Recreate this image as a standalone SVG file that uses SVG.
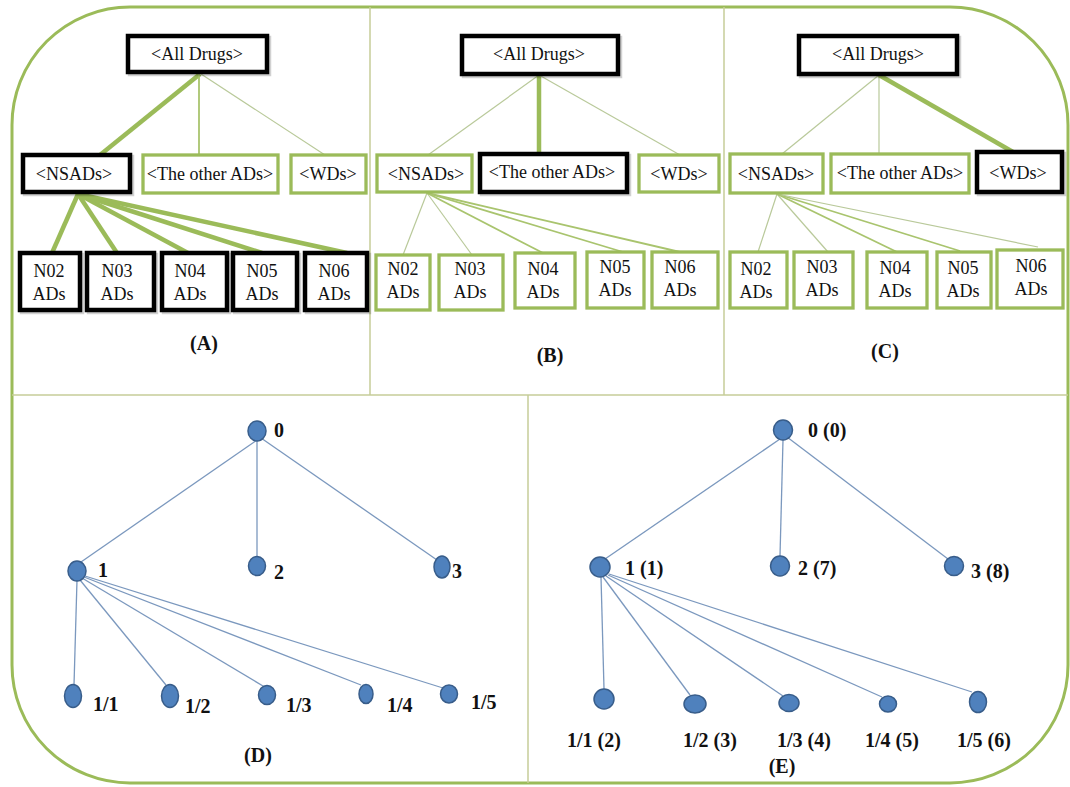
<svg xmlns="http://www.w3.org/2000/svg" width="1070" height="787" viewBox="0 0 1070 787">
  <style>
    .frame { fill: #ffffff; stroke: #9bbb59; stroke-width: 3; }
    .divider { stroke: #c6cc98; stroke-width: 1.5; fill: none; }
    .box { fill: #ffffff; stroke: #9bbb59; stroke-width: 3.3; }
    .box-sel { fill: #ffffff; stroke: #000000; stroke-width: 4.5; }
    .shadow { fill: none; stroke: #000000; stroke-opacity: 0.18; stroke-width: 4.5; }
    .lbl { font-family: "Liberation Serif", "Times New Roman", serif; font-size: 18px; fill: #111111; text-anchor: middle; }
    .cap { font-family: "Liberation Serif", "Times New Roman", serif; font-size: 20px; font-weight: bold; fill: #111111; text-anchor: middle; }
    .num { font-family: "Liberation Serif", "Times New Roman", serif; font-size: 20px; font-weight: bold; fill: #111111; }
    .e-thick { stroke: #9bbb59; stroke-width: 4.5; fill: none; }
    .e-mid { stroke: #a9c46e; stroke-width: 1.8; fill: none; }
    .e-thin { stroke: #b9c99a; stroke-width: 1.2; fill: none; }
    .edge { stroke: #7b98be; stroke-width: 1.3; fill: none; }
    .dot { fill: #4f81bd; stroke: #385d8a; stroke-width: 1.5; }
  </style>

  <!-- outer rounded frame and panel dividers -->
  <rect class="frame" x="12" y="7" width="1056" height="776" rx="118" ry="118"/>
  <g id="dividers">
    <line class="divider" x1="12" y1="395" x2="1068" y2="395"/>
    <line class="divider" x1="370" y1="7" x2="370" y2="395"/>
    <line class="divider" x1="724" y1="7" x2="724" y2="395"/>
    <line class="divider" x1="528" y1="395" x2="528" y2="783"/>
  </g>

  <!-- connectors -->
  <g id="connectors">
    <!-- panel A -->
    <line class="e-thick" x1="200" y1="74" x2="100" y2="155"/>
    <line class="e-mid" x1="199" y1="74" x2="199" y2="155"/>
    <line class="e-thin" x1="201" y1="74" x2="325" y2="155"/>
    <line class="e-thick" x1="78" y1="194" x2="52" y2="253"/>
    <line class="e-thick" x1="78" y1="194" x2="117" y2="253"/>
    <line class="e-thick" x1="78" y1="194" x2="188" y2="253"/>
    <line class="e-thick" x1="78" y1="194" x2="262" y2="253"/>
    <line class="e-thick" x1="78" y1="194" x2="347" y2="253"/>
    <!-- panel B -->
    <line class="e-thin" x1="539" y1="75" x2="428" y2="155"/>
    <line class="e-thick" x1="539" y1="75" x2="539" y2="154"/>
    <line class="e-thin" x1="539" y1="75" x2="680" y2="155"/>
    <line class="e-thin" x1="427" y1="193" x2="403" y2="255"/>
    <line class="e-thin" x1="427" y1="193" x2="472" y2="255"/>
    <line class="e-mid" x1="427" y1="193" x2="543" y2="253"/>
    <line class="e-mid" x1="427" y1="193" x2="623" y2="252"/>
    <line class="e-mid" x1="427" y1="193" x2="680" y2="252"/>
    <!-- panel C -->
    <line class="e-thin" x1="879" y1="75" x2="782" y2="154"/>
    <line class="e-thin" x1="879" y1="75" x2="879" y2="154"/>
    <line class="e-thick" x1="879" y1="75" x2="1013" y2="152"/>
    <line class="e-thin" x1="777" y1="194" x2="758" y2="252"/>
    <line class="e-thin" x1="777" y1="194" x2="828" y2="252"/>
    <line class="e-mid" x1="777" y1="194" x2="897" y2="252"/>
    <line class="e-mid" x1="777" y1="194" x2="960" y2="251"/>
    <line class="e-thin" x1="777" y1="194" x2="1038" y2="247"/>
    <!-- panel D -->
    <line class="edge" x1="257" y1="440" x2="81" y2="562"/>
    <line class="edge" x1="257" y1="440" x2="257" y2="557"/>
    <line class="edge" x1="261" y1="438" x2="437" y2="560"/>
    <line class="edge" x1="77" y1="580" x2="74" y2="685"/>
    <line class="edge" x1="80" y1="580" x2="166" y2="685"/>
    <line class="edge" x1="82" y1="578" x2="263" y2="686"/>
    <line class="edge" x1="84" y1="577" x2="361" y2="685"/>
    <line class="edge" x1="85" y1="576" x2="443" y2="688"/>
    <!-- panel E -->
    <line class="edge" x1="780" y1="439" x2="605" y2="559"/>
    <line class="edge" x1="783" y1="440" x2="780" y2="556"/>
    <line class="edge" x1="787" y1="437" x2="948" y2="559"/>
    <line class="edge" x1="601" y1="577" x2="604" y2="689"/>
    <line class="edge" x1="603" y1="577" x2="690" y2="695"/>
    <line class="edge" x1="606" y1="576" x2="783" y2="696"/>
    <line class="edge" x1="608" y1="575" x2="882" y2="697"/>
    <line class="edge" x1="609" y1="574" x2="972" y2="692"/>
  </g>

  <!-- panel A nodes -->
  <g id="a-all-drugs">
    <rect class="shadow" x="130" y="38" width="139" height="36"/>
    <rect class="box-sel" x="128" y="36" width="139" height="36"/>
    <text class="lbl" x="197" y="60">&lt;All Drugs&gt;</text>
  </g>
  <g id="a-nsads">
    <rect class="shadow" x="25" y="157" width="107" height="37"/>
    <rect class="box-sel" x="23" y="155" width="107" height="37"/>
    <text class="lbl" x="74" y="180">&lt;NSADs&gt;</text>
  </g>
  <g id="a-other">
    <rect class="box" x="143" y="155" width="135" height="38"/>
    <text class="lbl" x="210" y="180">&lt;The other ADs&gt;</text>
  </g>
  <g id="a-wds">
    <rect class="box" x="291" y="155" width="75" height="38"/>
    <text class="lbl" x="328" y="180">&lt;WDs&gt;</text>
  </g>
  <g id="a-n02">
    <rect class="shadow" x="22" y="255" width="60" height="57"/>
    <rect class="box-sel" x="20" y="253" width="60" height="57"/>
    <text class="lbl" x="49" y="277">N02</text><text class="lbl" x="49" y="300">ADs</text>
  </g>
  <g id="a-n03">
    <rect class="shadow" x="89" y="255" width="67" height="57"/>
    <rect class="box-sel" x="87" y="253" width="67" height="57"/>
    <text class="lbl" x="117" y="277">N03</text><text class="lbl" x="117" y="300">ADs</text>
  </g>
  <g id="a-n04">
    <rect class="shadow" x="164" y="255" width="65" height="57"/>
    <rect class="box-sel" x="162" y="253" width="65" height="57"/>
    <text class="lbl" x="190" y="277">N04</text><text class="lbl" x="190" y="300">ADs</text>
  </g>
  <g id="a-n05">
    <rect class="shadow" x="235" y="255" width="64" height="57"/>
    <rect class="box-sel" x="233" y="253" width="64" height="57"/>
    <text class="lbl" x="262" y="277">N05</text><text class="lbl" x="262" y="300">ADs</text>
  </g>
  <g id="a-n06">
    <rect class="shadow" x="307" y="255" width="62" height="57"/>
    <rect class="box-sel" x="305" y="253" width="62" height="57"/>
    <text class="lbl" x="334" y="277">N06</text><text class="lbl" x="334" y="300">ADs</text>
  </g>
  <text class="cap" x="204" y="350">(A)</text>

  <!-- panel B nodes -->
  <g id="b-all-drugs">
    <rect class="shadow" x="464" y="38" width="156" height="38"/>
    <rect class="box-sel" x="462" y="36" width="156" height="38"/>
    <text class="lbl" x="539" y="60">&lt;All Drugs&gt;</text>
  </g>
  <g id="b-nsads">
    <rect class="box" x="377" y="155" width="95" height="37"/>
    <text class="lbl" x="426" y="180">&lt;NSADs&gt;</text>
  </g>
  <g id="b-other">
    <rect class="shadow" x="482" y="156" width="147" height="38"/>
    <rect class="box-sel" x="480" y="154" width="147" height="38"/>
    <text class="lbl" x="552" y="178">&lt;The other ADs&gt;</text>
  </g>
  <g id="b-wds">
    <rect class="box" x="639" y="155" width="80" height="37"/>
    <text class="lbl" x="679" y="180">&lt;WDs&gt;</text>
  </g>
  <g id="b-n02">
    <rect class="box" x="376" y="255" width="54" height="55"/>
    <text class="lbl" x="403" y="275">N02</text><text class="lbl" x="403" y="298">ADs</text>
  </g>
  <g id="b-n03">
    <rect class="box" x="439" y="255" width="64" height="55"/>
    <text class="lbl" x="470" y="275">N03</text><text class="lbl" x="470" y="298">ADs</text>
  </g>
  <g id="b-n04">
    <rect class="box" x="515" y="253" width="60" height="55"/>
    <text class="lbl" x="543" y="275">N04</text><text class="lbl" x="543" y="298">ADs</text>
  </g>
  <g id="b-n05">
    <rect class="box" x="587" y="252" width="57" height="56"/>
    <text class="lbl" x="615" y="273">N05</text><text class="lbl" x="615" y="296">ADs</text>
  </g>
  <g id="b-n06">
    <rect class="box" x="652" y="252" width="66" height="56"/>
    <text class="lbl" x="680" y="273">N06</text><text class="lbl" x="680" y="296">ADs</text>
  </g>
  <text class="cap" x="550" y="362">(B)</text>

  <!-- panel C nodes -->
  <g id="c-all-drugs">
    <rect class="shadow" x="801" y="38" width="158" height="38"/>
    <rect class="box-sel" x="799" y="36" width="158" height="38"/>
    <text class="lbl" x="878" y="60">&lt;All Drugs&gt;</text>
  </g>
  <g id="c-nsads">
    <rect class="box" x="730" y="154" width="93" height="39"/>
    <text class="lbl" x="776" y="180">&lt;NSADs&gt;</text>
  </g>
  <g id="c-other">
    <rect class="box" x="831" y="154" width="138" height="39"/>
    <text class="lbl" x="900" y="179">&lt;The other ADs&gt;</text>
  </g>
  <g id="c-wds">
    <rect class="shadow" x="979" y="154" width="85" height="40"/>
    <rect class="box-sel" x="977" y="152" width="85" height="40"/>
    <text class="lbl" x="1018" y="179">&lt;WDs&gt;</text>
  </g>
  <g id="c-n02">
    <rect class="box" x="730" y="252" width="57" height="56"/>
    <text class="lbl" x="756" y="275">N02</text><text class="lbl" x="756" y="298">ADs</text>
  </g>
  <g id="c-n03">
    <rect class="box" x="794" y="252" width="59" height="56"/>
    <text class="lbl" x="822" y="273">N03</text><text class="lbl" x="822" y="296">ADs</text>
  </g>
  <g id="c-n04">
    <rect class="box" x="867" y="252" width="60" height="56"/>
    <text class="lbl" x="895" y="274">N04</text><text class="lbl" x="895" y="297">ADs</text>
  </g>
  <g id="c-n05">
    <rect class="box" x="937" y="252" width="54" height="56"/>
    <text class="lbl" x="963" y="274">N05</text><text class="lbl" x="963" y="297">ADs</text>
  </g>
  <g id="c-n06">
    <rect class="box" x="997" y="250" width="66" height="58"/>
    <text class="lbl" x="1031" y="272">N06</text><text class="lbl" x="1031" y="295">ADs</text>
  </g>
  <text class="cap" x="885" y="358">(C)</text>

  <!-- panel D nodes -->
  <g id="d-0"><ellipse class="dot" cx="257" cy="431" rx="9" ry="10"/><text class="num" x="274" y="437">0</text></g>
  <g id="d-1"><ellipse class="dot" cx="77" cy="571" rx="9" ry="10"/><text class="num" x="98" y="577">1</text></g>
  <g id="d-2"><ellipse class="dot" cx="257" cy="566" rx="8.5" ry="9.5"/><text class="num" x="274" y="579">2</text></g>
  <g id="d-3"><ellipse class="dot" cx="442" cy="567" rx="8" ry="11"/><text class="num" x="452" y="578">3</text></g>
  <g id="d-1-1"><ellipse class="dot" cx="73" cy="696" rx="8.5" ry="11.5"/><text class="num" x="93" y="711">1/1</text></g>
  <g id="d-1-2"><ellipse class="dot" cx="170" cy="696" rx="8.5" ry="11.5"/><text class="num" x="185" y="713">1/2</text></g>
  <g id="d-1-3"><ellipse class="dot" cx="267" cy="695" rx="8.5" ry="9.5"/><text class="num" x="286" y="712">1/3</text></g>
  <g id="d-1-4"><ellipse class="dot" cx="366" cy="694" rx="7" ry="9.5"/><text class="num" x="387" y="712">1/4</text></g>
  <g id="d-1-5"><ellipse class="dot" cx="449" cy="694" rx="8.5" ry="9"/><text class="num" x="471" y="709">1/5</text></g>
  <text class="cap" x="258" y="762">(D)</text>

  <!-- panel E nodes -->
  <g id="e-0"><ellipse class="dot" cx="783" cy="430" rx="9.5" ry="10"/><text class="num" x="808" y="437">0 (0)</text></g>
  <g id="e-1"><ellipse class="dot" cx="600" cy="567" rx="10" ry="10"/><text class="num" x="625" y="575">1 (1)</text></g>
  <g id="e-2"><ellipse class="dot" cx="780" cy="566" rx="9.5" ry="10"/><text class="num" x="798" y="575">2 (7)</text></g>
  <g id="e-3"><ellipse class="dot" cx="954" cy="566" rx="9.5" ry="9.5"/><text class="num" x="971" y="578">3 (8)</text></g>
  <g id="e-1-1"><ellipse class="dot" cx="604" cy="699" rx="10" ry="10"/><text class="num" x="567" y="747">1/1 (2)</text></g>
  <g id="e-1-2"><ellipse class="dot" cx="695" cy="704" rx="11" ry="9"/><text class="num" x="683" y="747">1/2 (3)</text></g>
  <g id="e-1-3"><ellipse class="dot" cx="789" cy="703" rx="10" ry="8.5"/><text class="num" x="777" y="747">1/3 (4)</text></g>
  <g id="e-1-4"><ellipse class="dot" cx="888" cy="704" rx="8.5" ry="8"/><text class="num" x="865" y="747">1/4 (5)</text></g>
  <g id="e-1-5"><ellipse class="dot" cx="978" cy="702" rx="8.5" ry="10.5"/><text class="num" x="957" y="747">1/5 (6)</text></g>
  <text class="cap" x="782" y="773">(E)</text>
</svg>
